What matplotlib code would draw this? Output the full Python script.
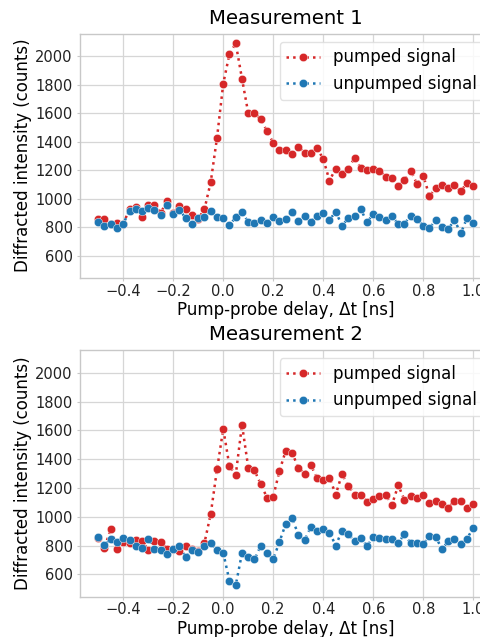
import numpy as np
import matplotlib
matplotlib.use("Agg")
import matplotlib.pyplot as plt

# ================= DATA =================
delay = np.round(np.arange(-0.5, 1.0001, 0.025), 3)

pumped_1 = [860, 855, 820, 833, 826, 926, 940, 875, 956, 958,
            903, 981, 900, 951, 930, 884, 860, 928, 1118, 1427,
            1807, 2016, 2088, 1841, 1600, 1600, 1559, 1473, 1392, 1344,
            1339, 1316, 1365, 1321, 1323, 1355, 1279, 1127, 1212, 1173,
            1207, 1288, 1217, 1205, 1212, 1198, 1154, 1147, 1087, 1129,
            1198, 1103, 1163, 1018, 1076, 1094, 1073, 1094, 1055, 1108,
            1090]
unpumped_1 = [840, 808, 820, 792, 824, 917, 930, 917, 937, 924,
              887, 956, 896, 919, 866, 825, 864, 870, 914, 873,
              867, 817, 870, 905, 838, 827, 854, 833, 870, 845,
              859, 910, 845, 880, 840, 882, 900, 852, 910, 811,
              863, 879, 928, 835, 893, 875, 852, 877, 824, 826,
              882, 856, 812, 796, 849, 805, 787, 852, 757, 865,
              833]

pumped_2 = [855, 785, 917, 780, 822, 817, 836, 833, 769, 831,
            822, 780, 775, 762, 797, 778, 765, 820, 1021, 1329,
            1610, 1351, 1291, 1640, 1342, 1323, 1226, 1134, 1141, 1319,
            1459, 1446, 1342, 1300, 1360, 1270, 1258, 1272, 1155, 1297,
            1216, 1154, 1154, 1106, 1122, 1147, 1150, 1085, 1219, 1117,
            1147, 1131, 1150, 1099, 1113, 1092, 1064, 1110, 1110, 1064,
            1090]
unpumped_2 = [861, 806, 843, 827, 850, 836, 801, 787, 845, 780,
              769, 739, 778, 799, 720, 773, 755, 799, 817, 767,
              750, 554, 526, 748, 720, 704, 799, 746, 706, 827,
              951, 993, 877, 836, 928, 903, 914, 891, 801, 904,
              880, 833, 856, 798, 858, 854, 849, 849, 817, 882,
              815, 817, 808, 870, 861, 775, 831, 849, 808, 847,
              925]

titles = ["Measurement 1", "Measurement 2"]

# ================= STYLE =================
plt.rcParams.update({
    "font.family": "DejaVu Sans",
    "axes.edgecolor": "#c8c8c8",
    "axes.linewidth": 1.0,
    "grid.color": "#d6d6d6",
    "grid.linewidth": 0.9,
    "xtick.color": "#c8c8c8",
    "ytick.color": "#c8c8c8",
    "xtick.labelcolor": "#222222",
    "ytick.labelcolor": "#222222",
    "xtick.major.size": 2.5,
    "ytick.major.size": 2.5,
    "xtick.major.pad": 1.8,
    "ytick.major.pad": 2.5,
    "xtick.labelsize": 10.5,
    "ytick.labelsize": 10.5,
})

W, H = 481, 637
fig = plt.figure(figsize=(W / 100, H / 100), dpi=100)

# axes boxes in pixels: left, top, right, bottom (right edge runs past the figure)
boxes = [(79.5, 33.5, 492, 277.7), (79.5, 350, 492, 596.5)]

axes = []
for (l, t, r, b) in boxes:
    ax = fig.add_axes([l / W, 1 - b / H, (r - l) / W, (b - t) / H])
    axes.append(ax)
axes[1].sharey(axes[0])

series = [(pumped_1, unpumped_1), (pumped_2, unpumped_2)]

for ax, (pumped, unpumped), title in zip(axes, series, titles):
    ax.plot(delay, pumped, ":", marker="o", color="#d62728", lw=1.8,
            ms=6, mec="white", mew=0.3, label="pumped signal")
    ax.plot(delay, unpumped, ":", marker="o", color="#1f77b4", lw=1.8,
            ms=6, mec="white", mew=0.3, label="unpumped signal")
    ax.set_xlim(-0.575, 1.075)
    ax.set_ylim(447, 2158)
    ax.set_yticks([600, 800, 1000, 1200, 1400, 1600, 1800, 2000])
    ax.set_xticks([-0.4, -0.2, 0.0, 0.2, 0.4, 0.6, 0.8, 1.0])
    ax.grid(True)
    ax.set_axisbelow(True)
    ax.set_title(title, fontsize=14.2, pad=7)
    ax.set_xlabel("Pump-probe delay, Δt [ns]", fontsize=12, labelpad=2)
    ax.set_ylabel("Diffracted intensity (counts)", fontsize=12, labelpad=2)
    ax.legend(loc="upper right", fontsize=12, framealpha=0.85,
              edgecolor="#dddddd", handlelength=2.0)

fig.savefig("out.png", dpi=100)
